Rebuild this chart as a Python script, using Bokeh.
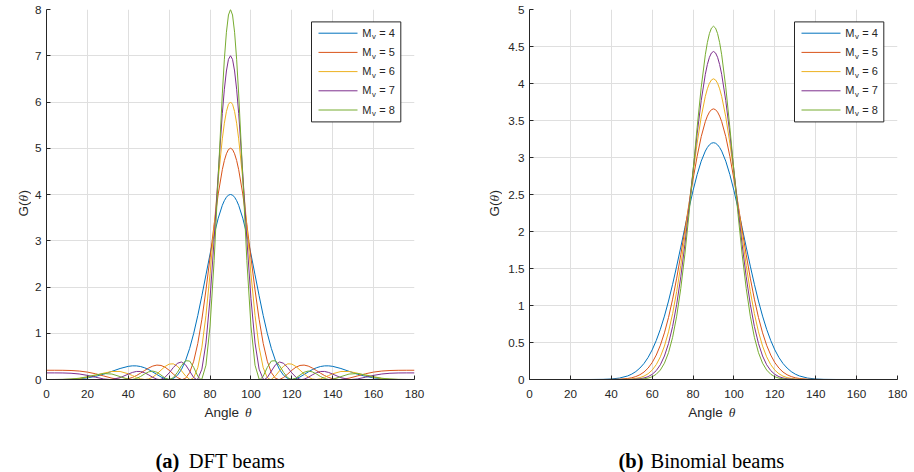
import math
from bokeh.plotting import figure
from bokeh.models import Range1d, FixedTicker, Label, BoxAnnotation, Arrow
from bokeh.layouts import row, column
from bokeh.embed import file_html
from bokeh.resources import INLINE

# ---------------- data ----------------
M_VALUES = ["4", "5", "6", "7", "8"]
COLORS = ["#0072BD", "#D95319", "#EDB120", "#7E2F8E", "#77AC30"]
X_TICKS = [0, 20, 40, 60, 80, 100, 120, 140, 160, 180]
DFT_Y_TICKS = [0, 1, 2, 3, 4, 5, 6, 7, 8]
DFT_Y_TICK_LABELS = ["0", "1", "2", "3", "4", "5", "6", "7", "8"]
BIN_Y_TICKS = [0, 0.5, 1, 1.5, 2, 2.5, 3, 3.5, 4, 4.5, 5]
BIN_Y_TICK_LABELS = ["0", "0.5", "1", "1.5", "2", "2.5", "3", "3.5", "4", "4.5", "5"]
X_LABEL = ["Angle", "\u03b8"]
Y_LABEL = ["G(", "\u03b8", ")"]
CAPTION_TAGS = ["(a)", "(b)"]
CAPTION_TEXTS = ["DFT beams", "Binomial beams"]

# DFT beams, angle (deg) and gain for each M_v
DFT_X4 = [0, 4, 8, 12, 16, 20, 24, 28, 32, 36, 40, 42, 44, 46, 48, 50, 52, 54, 56, 58,
          60, 62, 64, 66, 68, 70, 72, 74, 76, 78, 80, 82, 84, 86, 87, 88, 89, 90,
          91, 92, 93, 94, 96, 98, 100, 102, 104, 106, 108, 110, 112, 114, 116, 118, 120,
          122, 124, 126, 128, 130, 132, 134, 136, 138, 140, 144, 148, 152, 156, 160, 164,
          168, 172, 176, 180]
DFT_G4 = [0, 0.0001, 0.0009, 0.0047, 0.0145, 0.0346, 0.068, 0.1165, 0.1765, 0.238,
          0.2842, 0.295, 0.2944, 0.2807, 0.2533, 0.213, 0.1629, 0.108, 0.0558, 0.0159,
          0, 0.0201, 0.0883, 0.215, 0.4077, 0.6695, 0.9975, 1.3836, 1.8121, 2.2626,
          2.712, 3.132, 3.488, 3.766, 3.8676, 3.941, 3.9877, 4,
          3.9877, 3.941, 3.8676, 3.766, 3.488, 3.132, 2.712, 2.2626, 1.8121, 1.3836,
          0.9975, 0.6695, 0.4077, 0.215, 0.0883, 0.0201, 0, 0.0159, 0.0558, 0.108,
          0.1629, 0.213, 0.2533, 0.2807, 0.2944, 0.295, 0.2842, 0.238, 0.1765, 0.1165,
          0.068, 0.0346, 0.0145, 0.0047, 0.0009, 0.0001, 0]

DFT_X5 = [0, 4, 8, 12, 16, 20, 24, 28, 32, 36, 36.87, 40, 42, 44, 46, 48, 50, 52, 54, 56,
          58, 60, 62, 64, 66, 66.42, 68, 70, 72, 74, 76, 78, 80, 82, 84, 86, 87, 88, 89, 90,
          91, 92, 93, 94, 96, 98, 100, 102, 104, 106, 108, 110, 112, 113.58, 114, 116, 118,
          120, 122, 124, 126, 128, 130, 132, 134, 136, 138, 140, 143.13, 144, 148, 152, 156,
          160, 164, 168, 172, 176, 180]
DFT_G5 = [0.2, 0.1999, 0.1989, 0.1944, 0.1828, 0.1598, 0.1234, 0.076, 0.0287, 0.0011,
          0, 0.016, 0.0441, 0.0857, 0.1377, 0.1947, 0.2487, 0.2907, 0.3117, 0.304,
          0.2656, 0.2, 0.1192, 0.0436, 0.0016, 0, 0.0255, 0.1477, 0.3943, 0.7804,
          1.3015, 1.9353, 2.6397, 3.3542, 4.0114, 4.5375, 4.736, 4.88, 4.9736, 5,
          4.9736, 4.88, 4.736, 4.5375, 4.0114, 3.3542, 2.6397, 1.9353, 1.3015, 0.7804,
          0.3943, 0.1477, 0.0255, 0, 0.0016, 0.0436, 0.1192, 0.2, 0.2656, 0.304,
          0.3117, 0.2907, 0.2487, 0.1947, 0.1377, 0.0857, 0.0441, 0.016, 0, 0.0011,
          0.0287, 0.076, 0.1234, 0.1598, 0.1828, 0.1944, 0.1989, 0.1999, 0.2]

DFT_X6 = [0, 4, 8, 12, 16, 20, 24, 28, 32, 36, 40, 42, 44, 46, 48, 48.19, 50, 52, 54, 56,
          58, 60, 62, 64, 66, 68, 70, 70.53, 72, 74, 76, 78, 80, 82, 84, 86, 87, 88, 89, 90,
          91, 92, 93, 94, 96, 98, 100, 102, 104, 106, 108, 109.47, 110, 112, 114, 116, 118,
          120, 122, 124, 126, 128, 130, 131.81, 132, 134, 136, 138, 140, 144, 148, 152, 156,
          160, 164, 168, 172, 176, 180]
DFT_G6 = [0, 0.0001, 0.0014, 0.007, 0.0213, 0.0488, 0.0898, 0.1375, 0.1732, 0.1732,
          0.1241, 0.0858, 0.0462, 0.0144, 0.0001, 0, 0.0116, 0.0526, 0.1201, 0.2023,
          0.2811, 0.3333, 0.3391, 0.2885, 0.1907, 0.0778, 0.0043, 0, 0.0395, 0.2535,
          0.6972, 1.3864, 2.2869, 3.3109, 4.333, 5.2029, 5.5419, 5.7945, 5.9523, 6,
          5.9523, 5.7945, 5.5419, 5.2029, 4.333, 3.3109, 2.2869, 1.3864, 0.6972, 0.2535,
          0.0395, 0, 0.0043, 0.0778, 0.1907, 0.2885, 0.3391, 0.3333, 0.2811, 0.2023,
          0.1201, 0.0526, 0.0116, 0, 0.0001, 0.0144, 0.0462, 0.0858, 0.1241, 0.1732,
          0.1732, 0.1375, 0.0898, 0.0488, 0.0213, 0.007, 0.0014, 0.0001, 0]

DFT_X7 = [0, 4, 8, 12, 16, 20, 24, 28, 31, 32, 36, 40, 42, 44, 46, 48, 50, 52, 54, 55.15,
          56, 58, 60, 62, 64, 66, 68, 70, 72, 73.4, 74, 76, 78, 80, 82, 84, 86, 87, 88, 89, 90,
          91, 92, 93, 94, 96, 98, 100, 102, 104, 106, 106.6, 108, 110, 112, 114, 116, 118,
          120, 122, 124, 124.85, 126, 128, 130, 132, 134, 136, 138, 140, 144, 148, 149, 152,
          156, 160, 164, 168, 172, 176, 180]
DFT_G7 = [0.1429, 0.1428, 0.1413, 0.1349, 0.119, 0.0895, 0.0492, 0.0115, 0, 0.0015,
          0.0399, 0.1165, 0.1525, 0.1741, 0.1732, 0.1466, 0.0995, 0.0461, 0.0072, 0,
          0.0043, 0.0508, 0.1429, 0.2564, 0.3498, 0.379, 0.3188, 0.1837, 0.0422, 0,
          0.0099, 0.2227, 0.7905, 1.7515, 3.0324, 4.4529, 5.7533, 6.2756, 6.6708, 6.922, 7,
          6.922, 6.6708, 6.2756, 5.7533, 4.4529, 3.0324, 1.7515, 0.7905, 0.2227, 0.0099,
          0, 0.0422, 0.1837, 0.3188, 0.379, 0.3498, 0.2564, 0.1429, 0.0508, 0.0043,
          0, 0.0072, 0.0461, 0.0995, 0.1466, 0.1732, 0.1741, 0.1525, 0.1165, 0.0399,
          0.0015, 0, 0.0115, 0.0492, 0.0895, 0.119, 0.1349, 0.1413, 0.1428, 0.1429]

DFT_X8 = [0, 4, 8, 12, 16, 20, 24, 28, 32, 36, 40, 41.41, 42, 44, 46, 48, 50, 52, 54, 56,
          58, 60, 62, 64, 66, 68, 70, 72, 74, 75.52, 76, 78, 80, 82, 84, 86, 87, 88, 89, 90,
          91, 92, 93, 94, 96, 98, 100, 102, 104, 104.48, 106, 108, 110, 112, 114, 116, 118,
          120, 122, 124, 126, 128, 130, 132, 134, 136, 138, 138.59, 140, 144, 148, 152, 156,
          160, 164, 168, 172, 176, 180]
DFT_G8 = [0, 0.0001, 0.0018, 0.0092, 0.0274, 0.0596, 0.0997, 0.1281, 0.1177, 0.0625,
          0.0057, 0, 0.0011, 0.0216, 0.0652, 0.12, 0.1658, 0.182, 0.1567, 0.0968,
          0.0308, 0, 0.0387, 0.1515, 0.2986, 0.4057, 0.3999, 0.262, 0.0712, 0,
          0.0093, 0.3092, 1.1554, 2.5742, 4.3763, 6.1739, 6.9252, 7.5091, 7.881, 8,
          7.881, 7.5091, 6.9252, 6.1739, 4.3763, 2.5742, 1.1554, 0.3092, 0.0093, 0,
          0.0712, 0.262, 0.3999, 0.4057, 0.2986, 0.1515, 0.0387, 0, 0.0308, 0.0968,
          0.1567, 0.182, 0.1658, 0.12, 0.0652, 0.0216, 0.0011, 0, 0.0057, 0.0625,
          0.1177, 0.1281, 0.0997, 0.0596, 0.0274, 0.0092, 0.0018, 0.0001, 0]

# Binomial beams, common angle grid (deg) and gain for each M_v
BIN_X = [0, 20, 30, 36, 40, 44, 48, 50, 52, 54, 56, 58, 60, 62, 64, 66, 68, 70, 72, 74,
         76, 78, 80, 82, 84, 86, 87, 88, 89, 90, 91, 92, 93, 94, 96, 98, 100, 102, 104,
         106, 108, 110, 112, 114, 116, 118, 120, 122, 124, 126, 128, 130, 132, 136, 140,
         144, 150, 160, 180]
BIN_G4 = [0, 0, 0.0003, 0.0021, 0.0069, 0.0193, 0.048, 0.0726, 0.1072, 0.1547,
          0.2164, 0.2975, 0.4, 0.5269, 0.6785, 0.8564, 1.06, 1.2868, 1.532, 1.7901,
          2.0524, 2.31, 2.5527, 2.7694, 2.9503, 3.0866, 3.1357, 3.1713, 3.1928, 3.2,
          3.1928, 3.1713, 3.1357, 3.0866, 2.9503, 2.7694, 2.5527, 2.31, 2.0524, 1.7901,
          1.532, 1.2868, 1.06, 0.8564, 0.6785, 0.5269, 0.4, 0.2975, 0.2164, 0.1547,
          0.1072, 0.0726, 0.048, 0.0193, 0.0069, 0.0021, 0.0003, 0, 0]
BIN_G5 = [0, 0, 0, 0.0002, 0.001, 0.004, 0.0136, 0.0235, 0.0395, 0.0644,
          0.1007, 0.154, 0.2286, 0.3301, 0.4624, 0.6307, 0.8381, 1.0855, 1.3697, 1.6856,
          2.0229, 2.3682, 2.7058, 3.0162, 3.2818, 3.4853, 3.5595, 3.6134, 3.6462, 3.6571,
          3.6462, 3.6134, 3.5595, 3.4853, 3.2818, 3.0162, 2.7058, 2.3682, 2.0229, 1.6856,
          1.3697, 1.0855, 0.8381, 0.6307, 0.4624, 0.3301, 0.2286, 0.154, 0.1007, 0.0644,
          0.0395, 0.0235, 0.0136, 0.004, 0.001, 0.0002, 0, 0, 0]
BIN_G6 = [0, 0, 0, 0, 0.0002, 0.0008, 0.0037, 0.0074, 0.0142, 0.0261,
          0.0456, 0.0775, 0.127, 0.2011, 0.3064, 0.4516, 0.6443, 0.8903, 1.1906, 1.5432,
          1.9384, 2.3606, 2.7881, 3.1937, 3.549, 3.8262, 3.9283, 4.0029, 4.0483, 4.0635,
          4.0483, 4.0029, 3.9283, 3.8262, 3.549, 3.1937, 2.7881, 2.3606, 1.9384, 1.5432,
          1.1906, 0.8903, 0.6443, 0.4516, 0.3064, 0.2011, 0.127, 0.0775, 0.0456, 0.0261,
          0.0142, 0.0074, 0.0037, 0.0008, 0.0002, 0, 0, 0, 0]
BIN_G7 = [0, 0, 0, 0, 0, 0.0002, 0.001, 0.0023, 0.005, 0.0104,
          0.0203, 0.0383, 0.0693, 0.1202, 0.1993, 0.3175, 0.4864, 0.7168, 1.016, 1.3871,
          1.8236, 2.31, 2.8209, 3.3202, 3.7682, 4.1241, 4.2566, 4.3537, 4.413, 4.4329,
          4.413, 4.3537, 4.2566, 4.1241, 3.7682, 3.3202, 2.8209, 2.31, 1.8236, 1.3871,
          1.016, 0.7168, 0.4864, 0.3175, 0.1993, 0.1202, 0.0693, 0.0383, 0.0203, 0.0104,
          0.005, 0.0023, 0.001, 0.0002, 0, 0, 0, 0, 0]
BIN_G8 = [0, 0, 0, 0, 0, 0, 0.0003, 0.0007, 0.0017, 0.0041,
          0.0089, 0.0187, 0.0373, 0.0709, 0.1279, 0.2204, 0.3626, 0.5698, 0.856, 1.231,
          1.6936, 2.2316, 2.8175, 3.4073, 3.9497, 4.3883, 4.5531, 4.6745, 4.7489, 4.7739,
          4.7489, 4.6745, 4.5531, 4.3883, 3.9497, 3.4073, 2.8175, 2.2316, 1.6936, 1.231,
          0.856, 0.5698, 0.3626, 0.2204, 0.1279, 0.0709, 0.0373, 0.0187, 0.0089, 0.0041,
          0.0017, 0.0007, 0.0003, 0, 0, 0, 0, 0, 0]

DFT_SERIES = [(DFT_X4, DFT_G4), (DFT_X5, DFT_G5), (DFT_X6, DFT_G6), (DFT_X7, DFT_G7), (DFT_X8, DFT_G8)]
BIN_SERIES = [(BIN_X, BIN_G4), (BIN_X, BIN_G5), (BIN_X, BIN_G6), (BIN_X, BIN_G7), (BIN_X, BIN_G8)]

# ---------------- styling ----------------
SANS = "Liberation Sans"
SERIF = "Liberation Serif"
INK = "#262626"
GRID = "#dfdfdf"
FW, FH = 368, 370          # plot frame size
TOP, BOTTOM = 9, 26        # borders of the plot figures
PLOT_H = TOP + FH + BOTTOM  # 405
PAGE_H = 472
CAP_H = PAGE_H - PLOT_H    # 67
LAB_PX = 13.5
BASE_FIX = 0.21            # measured baseline drop of Label text, in em


def blank(width, height):
    f = figure(frame_width=width, frame_height=height, x_range=Range1d(0, 1), y_range=Range1d(0, 1),
               output_backend="svg", toolbar_location=None,
               x_axis_location=None, y_axis_location=None,
               min_border_left=0, min_border_right=0, min_border_top=0, min_border_bottom=0)
    f.grid.visible = False
    f.outline_line_color = None
    f.background_fill_color = "white"
    f.border_fill_color = "white"
    return f


def label(f, x, y, text, font=SANS, size=LAB_PX, style="normal", angle=0.0, color=INK):
    # (x, y): wanted baseline start, frame-relative screen px
    if angle == 0.0:
        y = y + BASE_FIX * size
    else:
        x = x - BASE_FIX * size
    f.add_layout(Label(x=x, y=y, x_units="screen", y_units="screen", text=text, angle=angle,
                       text_font=font, text_font_style=style, text_font_size=f"{size}px",
                       text_color=color, text_baseline="alphabetic", text_align="left"))


def make_plot(series, y_max, y_ticks, y_labels, b_left, b_right):
    p = figure(frame_width=FW, frame_height=FH,
               x_range=Range1d(0, 180), y_range=Range1d(0, y_max),
               output_backend="svg", toolbar_location=None,
               min_border_left=b_left, min_border_right=b_right,
               min_border_top=TOP, min_border_bottom=BOTTOM)
    p.outline_line_color = None
    p.background_fill_color = "white"
    p.border_fill_color = "white"

    p.xaxis.ticker = FixedTicker(ticks=X_TICKS)
    p.xgrid.ticker = FixedTicker(ticks=X_TICKS)
    p.yaxis.ticker = FixedTicker(ticks=y_ticks)
    p.ygrid.ticker = FixedTicker(ticks=y_ticks)
    p.yaxis.major_label_overrides = {t: l for t, l in zip(y_ticks, y_labels)}
    for ax in (p.xaxis[0], p.yaxis[0]):
        ax.axis_line_color = INK
        ax.axis_line_width = 1
        ax.major_tick_line_color = INK
        ax.major_tick_in = 4
        ax.major_tick_out = 0
        ax.minor_tick_line_color = None
        ax.major_label_text_color = INK
        ax.major_label_text_font = SANS
        ax.major_label_text_font_size = "11.7px"
    p.xaxis.major_label_standoff = 10
    p.yaxis.major_label_standoff = 5
    p.grid.grid_line_color = GRID
    p.grid.grid_line_width = 1

    for (xs, ys), c in zip(series, COLORS):
        p.line(xs, ys, line_color=c, line_width=1)

    # legend box
    p.add_layout(BoxAnnotation(left=265, right=354.3, top=FH - 12.4, bottom=FH - 112.4,
                               left_units="screen", right_units="screen",
                               top_units="screen", bottom_units="screen",
                               fill_color="white", fill_alpha=1.0,
                               line_color=INK, line_width=1, line_alpha=1.0))
    for i, (m, c) in enumerate(zip(M_VALUES, COLORS)):
        yl = FH - 23.7 - 19.2 * i
        yb = FH - 25.7 - 19.2 * i
        p.add_layout(Arrow(start=None, end=None, x_start=272, y_start=yl, x_end=311, y_end=yl,
                           start_units="screen", end_units="screen",
                           line_color=c, line_width=1))
        label(p, 315.7, yb, "M", size=11)
        label(p, 325.4, yb - 3.3, "v", size=7.7)
        label(p, 332.8, yb, "= " + m, size=11)
    return p


def y_label_strip(width, base_x):
    f = blank(width, PLOT_H)
    y0 = PLOT_H - (TOP + FH / 2) - 13.1
    w_g = (0.778 + 0.333) * LAB_PX
    w_t = 0.52 * LAB_PX
    label(f, base_x, y0, Y_LABEL[0], angle=math.pi / 2)
    label(f, base_x, y0 + w_g, Y_LABEL[1], font=SERIF, style="italic", angle=math.pi / 2)
    label(f, base_x, y0 + w_g + w_t, Y_LABEL[2], angle=math.pi / 2)
    return f


def caption_strip(width, angle_x, theta_x, tag, text, tag_x, text_x):
    f = blank(width, CAP_H)
    y_axis_lab = PAGE_H - 415      # baseline of "Angle θ" at page y 415
    y_caption = PAGE_H - 465       # baseline of the caption at page y 465
    label(f, angle_x, y_axis_lab, X_LABEL[0])
    label(f, theta_x, y_axis_lab, X_LABEL[1], font=SERIF, style="italic")
    label(f, tag_x, y_caption, tag, font=SERIF, style="bold", size=20.5, color="black")
    label(f, text_x, y_caption, text, font=SERIF, size=20.5, color="black")
    return f


# left half: x 0..461, right half: x 461..913
p1 = make_plot(DFT_SERIES, 8, DFT_Y_TICKS, DFT_Y_TICK_LABELS, 15, 47)   # frame 46..414
p2 = make_plot(BIN_SERIES, 5, BIN_Y_TICKS, BIN_Y_TICK_LABELS, 27, 16)   # frame 529..897
yl1 = y_label_strip(31, 25.8)
yl2 = y_label_strip(41, 35.8)
cap1 = caption_strip(461, 204, 244.5, CAPTION_TAGS[0], CAPTION_TEXTS[0], 155, 188.3)
cap2 = caption_strip(452, 226.7, 267.3, CAPTION_TAGS[1], CAPTION_TEXTS[1], 157, 189)

layout = row(column(row(yl1, p1), cap1), column(row(yl2, p2), cap2))
open("out.html", "w").write(file_html(layout, INLINE, title="beams"))
